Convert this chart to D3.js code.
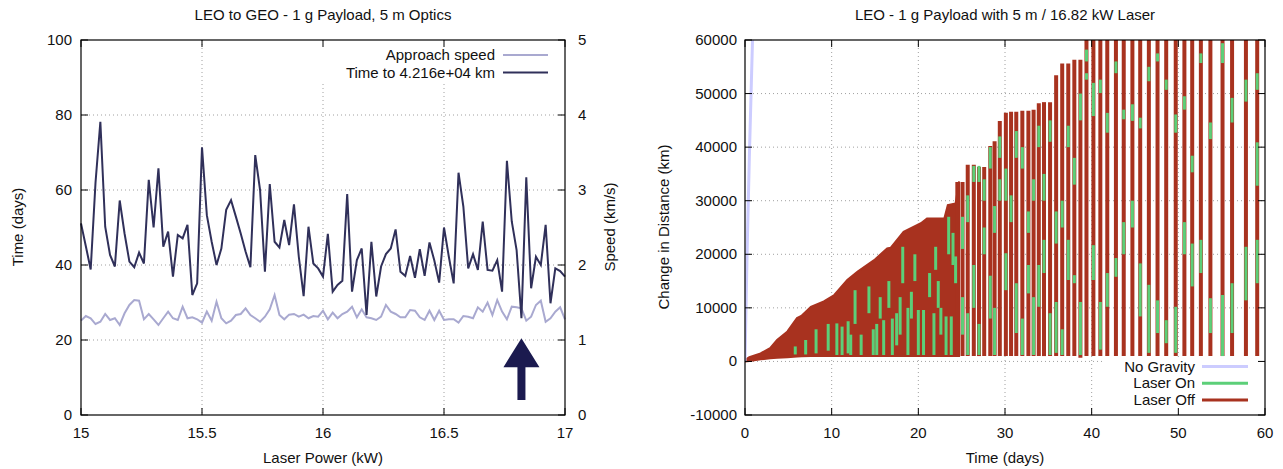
<!DOCTYPE html>
<html>
<head>
<meta charset="utf-8">
<script src="https://cdn.jsdelivr.net/npm/d3@7"></script>
<style>
  body { margin: 0; background: #fff; }
  text { font-family: "Liberation Sans", Arial, sans-serif; font-size: 15px; fill: #111; }
</style>
</head>
<body>
<svg id="chart" width="1283" height="469"></svg>
<script>
// ---- left chart: sweep over laser power ----
var powerKW = [15.00,15.02,15.04,15.06,15.08,15.10,15.12,15.14,15.16,15.18,15.20,15.22,15.24,15.26,15.28,15.30,15.32,15.34,15.36,15.38,15.40,15.42,15.44,15.46,15.48,15.50,
  15.52,15.54,15.56,15.58,15.60,15.62,15.64,15.66,15.68,15.70,15.72,15.74,15.76,15.78,15.80,15.82,15.84,15.86,15.88,15.90,15.92,15.94,15.96,15.98,16.00,
  16.02,16.04,16.06,16.08,16.10,16.12,16.14,16.16,16.18,16.20,16.22,16.24,16.26,16.28,16.30,16.32,16.34,16.36,16.38,16.40,16.42,16.44,16.46,16.48,16.50,
  16.52,16.54,16.56,16.58,16.60,16.62,16.64,16.66,16.68,16.70,16.72,16.74,16.76,16.78,16.80,16.82,16.84,16.86,16.88,16.90,16.92,16.94,16.96,16.98,17.00];
var timeDays = [51.1,45,38.8,62,78.2,50.2,42.7,39.6,57.2,48.4,40.9,39.4,43.3,40.4,62.7,50,65.8,44.9,48.9,36.9,48,47.1,50.7,32,35.1,71.4,
  53.3,46.2,40,44.4,54.7,57.3,52.9,48.4,43.6,39.4,69.3,60,38.2,61.6,46.2,44.7,52,45.3,56.2,42.2,31.7,50.2,40.4,39.1,36.9,
  48.3,32.9,34.7,35.8,58.9,32.9,41.3,44.4,26.7,46.2,31.6,39.6,42.9,44.4,49.5,38.2,37.1,42.4,36.6,44.2,37.1,46,41.2,35.3,50,
  42.2,35.1,64.6,55.6,39.1,42.9,38.7,51.6,38.7,38.5,41.3,32.9,67.8,51.6,44,25.8,63.4,33.8,42.2,40,50.7,29.8,39.1,38.4,36.9];
var speedKms = [1.258,1.32,1.29,1.213,1.244,1.347,1.267,1.29,1.2,1.356,1.467,1.533,1.524,1.276,1.347,1.276,1.2,1.29,1.378,1.29,1.267,1.444,1.29,1.302,1.276,1.231,
  1.378,1.258,1.511,1.29,1.222,1.258,1.333,1.347,1.422,1.333,1.29,1.244,1.311,1.409,1.6,1.333,1.276,1.338,1.347,1.311,1.338,1.29,1.32,1.311,1.391,
  1.276,1.364,1.29,1.347,1.378,1.444,1.302,1.409,1.302,1.29,1.267,1.311,1.467,1.378,1.347,1.302,1.302,1.4,1.391,1.302,1.267,1.391,1.267,1.391,1.267,
  1.276,1.276,1.231,1.32,1.311,1.29,1.436,1.378,1.498,1.333,1.533,1.378,1.276,1.444,1.436,1.422,1.258,1.311,1.467,1.524,1.244,1.29,1.378,1.436,1.276];
var powerTicks = [15, 15.5, 16, 16.5, 17];
var timeTicks = [0, 20, 40, 60, 80, 100];
var speedTicks = [0, 1, 2, 3, 4, 5];
var leftLegend = ["Approach speed", "Time to 4.216e+04 km"];
var chosenPower = [16.82];     // arrow marks the chosen laser power
var arrowSpan = [4, 20.5];     // arrow from / to, in days

// ---- right chart: orbit raising at 16.82 kW ----
var noGravT = [0, 0.25, 0.5, 0.9];
var noGravD = [0, 21000, 38000, 62000];
// envelope of the dense early orbits (days, km)
var denseT   = [0, 0.5, 1.8, 2.9, 3.7, 4.9, 6.0, 6.5, 7.6, 9.1, 10.3, 11.8, 13.0, 14.9, 16.4, 16.8, 18.3, 20.3, 21.0, 23.0, 23.4, 24.3, 24.7];
var denseTop = [300, 800, 1500, 2500, 4000, 5600, 8100, 8500, 10200, 11200, 12400, 15200, 16800, 18900, 21100, 21200, 24200, 25800, 26700, 26700, 29200, 29500, 33600];
var denseLow = [0, 100, 400, 600, 700, 800, 900, 950, 1000, 1000, 1000, 1000, 1000, 1000, 1000, 1000, 1000, 1000, 1000, 1000, 1000, 1000, 1000];
// later orbits, one bar per perigee pass
var orbitT   = [24.5,25.1,25.7,26.4,27.0,27.6,28.3,28.8,29.4,30.1,30.7,31.3,32.0,32.7,33.3,33.9,34.5,35.2,35.9,36.6,37.3,38.0,38.7,39.4,
  40.2,41.0,41.8,42.8,43.7,44.7,45.6,46.6,47.6,48.6,49.7,50.7,51.6,52.6,53.7,55.1,56.2,57.8,59.1];
var orbitTop = [33500,33500,36700,36700,36300,36300,40200,41100,44900,46400,46600,46600,46800,46800,47000,48200,48400,48400,53400,55600,55600,56300,56300,62000,
  62000,62000,62000,62000,62000,62000,62000,62000,62000,62000,62000,62000,62000,62000,62000,62000,62000,62000,62000];
var orbitLow = [1000,1000,1000,1000,1000,1000,1000,1000,1000,1000,1000,1000,1000,1000,1000,1000,1000,1000,1000,1000,1000,1000,700,1000,
  1000,1000,1000,1000,1000,1000,1000,1000,1000,1000,1000,1000,1000,1000,1000,1000,1000,1000,1000];
// laser-on stretches: day, from km, to km
var laserOnT  = [5.8,7.0,8.2,9.6,10.6,11.2,11.9,12.2,12.7,13.4,14.3,14.8,15.2,15.6,16.0,16.6,17.0,17.5,17.9,18.2,18.8,19.2,19.6,20.0,20.6,21.3,21.8,22.0,22.3,22.6,23.2,23.5,23.8,24.0,24.3,
  25.1,25.1,25.7,25.7,26.4,26.4,27.0,27.0,27.6,27.6,28.3,28.3,28.8,28.8,29.4,29.4,30.1,30.1,30.7,31.3,31.3,32.0,32.0,32.7,32.7,33.3,33.3,33.9,33.9,
  34.5,34.5,35.2,35.2,35.9,35.9,36.6,36.6,37.3,37.3,38.0,38.0,38.7,38.7,39.4,39.4,
  40.2,40.2,41.0,41.0,41.8,41.8,42.8,42.8,43.7,43.7,44.7,44.7,45.6,45.6,46.6,46.6,47.6,47.6,48.6,48.6,49.7,49.7,50.7,50.7,
  51.6,51.6,52.6,52.6,53.7,53.7,55.1,55.1,56.2,56.2,57.8,57.8,59.1,59.1,59.1];
var laserOnLo = [1300,1300,1500,2000,1200,1200,1500,1200,7000,1200,9000,1200,1200,8000,1200,10000,1200,3000,5000,14600,1200,8000,15000,1200,1200,12000,1200,17100,10000,5000,1200,20000,1200,18000,14600,
  21000,5000,26000,1200,33500,10000,33500,1200,20000,30000,36000,8000,24000,1200,30000,38000,13300,30000,26000,5300,38000,36000,1200,12700,24000,30000,1200,10200,40000,
  16500,30000,41000,1200,1600,22000,25000,1200,15200,40000,14600,33000,1200,45000,56000,52600,
  15200,45800,2200,50100,10200,42700,15800,53800,20000,45200,25000,44900,8400,43500,1600,52300,5300,56000,3400,50700,1600,42700,20000,47000,
  14000,35300,16500,55700,5300,41500,1000,55700,5300,44600,11400,48500,14600,32800,50700];
var laserOnHi = [2800,4000,6000,7000,7100,6500,7500,5000,13300,5000,14000,6000,7000,12000,7700,15000,8000,9000,12000,21400,10000,13000,20000,9600,9600,16500,9000,21400,15000,10000,8400,27000,8400,24000,19600,
  27000,12000,31000,9000,36500,18000,36500,7000,25000,34000,40000,16000,29000,10000,34000,42000,20200,36000,31000,14600,43000,40000,8000,18000,28000,34000,12000,18000,44000,
  22700,35000,45000,9000,11100,28000,30000,6000,22700,44000,16100,38000,11100,50000,58200,53800,
  21700,52000,11100,52600,16500,46400,19300,56000,26000,47000,30000,48000,18300,45500,14300,55000,11400,57500,7700,52600,10200,46100,26000,49500,
  22000,38400,22700,57500,11800,44600,12400,59400,14600,49200,21400,52600,22700,40900,53800];
var distTicks = [-10000, 0, 10000, 20000, 30000, 40000, 50000, 60000];
var dayTicks = [0, 10, 20, 30, 40, 50, 60];
var rightLegend = ["No Gravity", "Laser On", "Laser Off"];

var svg = d3.select("#chart");

function grid(g, x, y, xt, yt, x0, x1, y0, y1) {
  g.selectAll(".gx").data(xt.slice(1, -1)).enter().append("line")
    .attr("x1", d => x(d)).attr("x2", d => x(d)).attr("y1", y0).attr("y2", y1)
    .attr("stroke", "#a0a0a0").attr("stroke-dasharray", "1,3");
  g.selectAll(".gy").data(yt.slice(1, -1)).enter().append("line")
    .attr("y1", d => y(d)).attr("y2", d => y(d)).attr("x1", x0).attr("x2", x1)
    .attr("stroke", "#a0a0a0").attr("stroke-dasharray", "1,3");
}

function frame(g, x0, x1, y0, y1) {
  g.append("rect").attr("x", x0).attr("y", y0).attr("width", x1 - x0).attr("height", y1 - y0)
    .attr("fill", "none").attr("stroke", "#000").attr("stroke-width", 1.2);
}

// ================= LEFT =================
var L = { x0: 81, x1: 565, y0: 40, y1: 415 };
var xL = d3.scaleLinear().domain([15, 17]).range([L.x0, L.x1]);
var yL = d3.scaleLinear().domain([0, 100]).range([L.y1, L.y0]);
var ySp = d3.scaleLinear().domain([0, 5]).range([L.y1, L.y0]);
var gl = svg.append("g");

grid(gl, xL, yL, powerTicks, timeTicks, L.x0, L.x1, L.y0, L.y1);
// opaque key box
gl.append("rect").attr("x", 318).attr("y", L.y0 + 1).attr("width", L.x1 - 319).attr("height", 43).attr("fill", "#fff");

gl.append("path").datum(speedKms)
  .attr("d", d3.line().x((d, i) => xL(powerKW[i])).y(d => ySp(d)))
  .attr("fill", "none").attr("stroke", "#a9a9d0").attr("stroke-width", 2);
gl.append("path").datum(timeDays)
  .attr("d", d3.line().x((d, i) => xL(powerKW[i])).y(d => yL(d)))
  .attr("fill", "none").attr("stroke", "#30305a").attr("stroke-width", 2);

// arrow
var ax = xL(chosenPower[0]), aTop = yL(arrowSpan[1]), aBot = yL(arrowSpan[0]);
gl.append("path")
  .attr("d", "M" + (ax - 4) + "," + aBot + "V" + (aTop + 29) + "H" + (ax - 18) + "L" + ax + "," + aTop +
    "L" + (ax + 18) + "," + (aTop + 29) + "H" + (ax + 4) + "V" + aBot + "Z")
  .attr("fill", "#1b1a4f");

// ticks (inward, mirrored)
gl.selectAll(".tb").data(powerTicks).enter().append("path")
  .attr("d", d => "M" + xL(d) + "," + L.y1 + "v-7M" + xL(d) + "," + L.y0 + "v7")
  .attr("stroke", "#000");
gl.selectAll(".tl").data(timeTicks).enter().append("path")
  .attr("d", d => "M" + L.x0 + "," + yL(d) + "h7")
  .attr("stroke", "#000");
gl.selectAll(".tr").data(speedTicks).enter().append("path")
  .attr("d", d => "M" + L.x1 + "," + ySp(d) + "h-7")
  .attr("stroke", "#000");
frame(gl, L.x0, L.x1, L.y0, L.y1);

gl.selectAll(".lx").data(powerTicks).enter().append("text")
  .attr("x", d => xL(d)).attr("y", 438).attr("text-anchor", "middle").text(d => d);
gl.selectAll(".ly").data(timeTicks).enter().append("text")
  .attr("x", 72).attr("y", d => yL(d) + 5).attr("text-anchor", "end").text(d => d);
gl.selectAll(".ls").data(speedTicks).enter().append("text")
  .attr("x", 578).attr("y", d => ySp(d) + 5).text(d => d);

gl.append("text").attr("x", 323).attr("y", 20).attr("text-anchor", "middle").text("LEO to GEO - 1 g Payload, 5 m Optics");
gl.append("text").attr("x", 323).attr("y", 463).attr("text-anchor", "middle").text("Laser Power (kW)");
gl.append("text").attr("transform", "translate(23,227)rotate(-90)").attr("text-anchor", "middle").text("Time (days)");
gl.append("text").attr("transform", "translate(615,227)rotate(-90)").attr("text-anchor", "middle").text("Speed (km/s)");

var keyL = gl.selectAll(".kl").data(leftLegend).enter().append("g")
  .attr("transform", (d, i) => "translate(0," + (55 + i * 17.5) + ")");
keyL.append("text").attr("x", 495).attr("y", 5).attr("text-anchor", "end").text(d => d);
keyL.append("line").attr("x1", 503).attr("x2", 548)
  .attr("stroke", (d, i) => i === 0 ? "#a9a9d0" : "#30305a").attr("stroke-width", 2);

// ================= RIGHT =================
var R = { x0: 745, x1: 1265, y0: 40, y1: 415 };
var xR = d3.scaleLinear().domain([0, 60]).range([R.x0, R.x1]);
var yR = d3.scaleLinear().domain([-10000, 60000]).range([R.y1, R.y0]);
var gr = svg.append("g");
svg.append("clipPath").attr("id", "clipR").append("rect")
  .attr("x", R.x0).attr("y", R.y0).attr("width", R.x1 - R.x0).attr("height", R.y1 - R.y0);

grid(gr, xR, yR, dayTicks, distTicks, R.x0, R.x1, R.y0, R.y1);

var plot = gr.append("g").attr("clip-path", "url(#clipR)");
var RED = "#a8321f", GREEN = "#5ccf78", LAV = "#ccccff";

plot.append("path").datum(denseT)
  .attr("d", d3.area().x(d => xR(d)).y0((d, i) => yR(denseLow[i])).y1((d, i) => yR(denseTop[i])))
  .attr("fill", RED).attr("stroke", RED).attr("stroke-width", 2);
plot.selectAll(".orb").data(orbitT).enter().append("line")
  .attr("x1", d => xR(d)).attr("x2", d => xR(d))
  .attr("y1", (d, i) => yR(orbitLow[i])).attr("y2", (d, i) => yR(orbitTop[i]))
  .attr("stroke", RED).attr("stroke-width", 4);
plot.selectAll(".on").data(laserOnT).enter().append("line")
  .attr("x1", d => xR(d)).attr("x2", d => xR(d))
  .attr("y1", (d, i) => yR(laserOnLo[i])).attr("y2", (d, i) => yR(laserOnHi[i]))
  .attr("stroke", GREEN).attr("stroke-width", 3);
plot.append("path").datum(noGravT)
  .attr("d", d3.line().x(d => xR(d)).y((d, i) => yR(noGravD[i])))
  .attr("fill", "none").attr("stroke", LAV).attr("stroke-width", 3);

// opaque key box
gr.append("rect").attr("x", 1103).attr("y", 357).attr("width", R.x1 - 1103).attr("height", R.y1 - 357).attr("fill", "#fff");

gr.selectAll(".tbx").data(dayTicks).enter().append("path")
  .attr("d", d => "M" + xR(d) + "," + R.y1 + "v-7M" + xR(d) + "," + R.y0 + "v7")
  .attr("stroke", "#000");
gr.selectAll(".tby").data(distTicks).enter().append("path")
  .attr("d", d => "M" + R.x0 + "," + yR(d) + "h7M" + R.x1 + "," + yR(d) + "h-7")
  .attr("stroke", "#000");
frame(gr, R.x0, R.x1, R.y0, R.y1);

gr.selectAll(".rx").data(dayTicks).enter().append("text")
  .attr("x", d => xR(d)).attr("y", 438).attr("text-anchor", "middle").text(d => d);
gr.selectAll(".ry").data(distTicks).enter().append("text")
  .attr("x", 737).attr("y", d => yR(d) + 5).attr("text-anchor", "end").text(d => d);

gr.append("text").attr("x", 1005).attr("y", 20).attr("text-anchor", "middle").text("LEO - 1 g Payload with 5 m / 16.82 kW Laser");
gr.append("text").attr("x", 1005).attr("y", 463).attr("text-anchor", "middle").text("Time (days)");
gr.append("text").attr("transform", "translate(669,227)rotate(-90)").attr("text-anchor", "middle").text("Change in Distance (km)");

var keyR = gr.selectAll(".kr").data(rightLegend).enter().append("g")
  .attr("transform", (d, i) => "translate(0," + (366.5 + i * 16.7) + ")");
keyR.append("text").attr("x", 1195).attr("y", 5).attr("text-anchor", "end").text(d => d);
keyR.append("line").attr("x1", 1202).attr("x2", 1248)
  .attr("stroke", (d, i) => [LAV, GREEN, RED][i]).attr("stroke-width", 3);
</script>
</body>
</html>
